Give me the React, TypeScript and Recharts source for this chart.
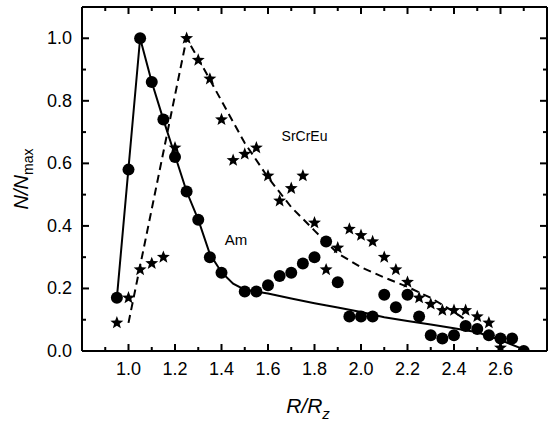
import React from "react";
import { ScatterChart, Scatter, XAxis, YAxis, ReferenceDot } from "recharts";

// Am (filled circles)
const AM_R = [0.95, 1.0, 1.05, 1.1, 1.15, 1.2, 1.25, 1.3, 1.35, 1.4, 1.5, 1.55, 1.6, 1.65, 1.7, 1.75, 1.8, 1.85, 1.9, 1.95, 2.0, 2.05, 2.1, 2.15, 2.2, 2.25, 2.3, 2.35, 2.4, 2.45, 2.5, 2.55, 2.6, 2.65, 2.7];
const AM_N = [0.17, 0.58, 1.0, 0.86, 0.74, 0.62, 0.51, 0.42, 0.3, 0.25, 0.19, 0.19, 0.21, 0.24, 0.25, 0.28, 0.3, 0.35, 0.22, 0.11, 0.11, 0.11, 0.18, 0.14, 0.18, 0.11, 0.05, 0.04, 0.05, 0.08, 0.07, 0.05, 0.04, 0.04, 0.0];

// SrCrEu (stars)
const SR_R = [0.95, 1.0, 1.05, 1.1, 1.15, 1.2, 1.25, 1.3, 1.35, 1.4, 1.45, 1.5, 1.55, 1.6, 1.65, 1.7, 1.75, 1.8, 1.85, 1.9, 1.95, 2.0, 2.05, 2.1, 2.15, 2.2, 2.25, 2.3, 2.35, 2.4, 2.45, 2.5, 2.55, 2.6];
const SR_N = [0.09, 0.17, 0.26, 0.28, 0.3, 0.65, 1.0, 0.93, 0.87, 0.74, 0.61, 0.63, 0.65, 0.56, 0.48, 0.52, 0.56, 0.41, 0.26, 0.33, 0.39, 0.37, 0.35, 0.3, 0.26, 0.22, 0.17, 0.15, 0.13, 0.13, 0.13, 0.11, 0.09, 0.01];

// fitted curves
const AM_FIT_R = [0.95, 1.05, 1.1, 1.15, 1.2, 1.25, 1.3, 1.35, 1.4, 1.45, 1.5, 1.6, 1.7, 1.8, 1.9, 2.0, 2.1, 2.2, 2.3, 2.4, 2.5, 2.6, 2.7];
const AM_FIT_N = [0.17, 1.0, 0.86, 0.74, 0.625, 0.51, 0.42, 0.31, 0.252, 0.215, 0.196, 0.184, 0.168, 0.153, 0.139, 0.125, 0.108, 0.096, 0.085, 0.073, 0.06, 0.035, 0.005];
const SR_FIT_R = [1.0, 1.25, 1.3, 1.4, 1.5, 1.6, 1.7, 1.8, 1.9, 2.0, 2.1, 2.2, 2.3, 2.4, 2.45];
const SR_FIT_N = [0.09, 1.0, 0.935, 0.8, 0.665, 0.555, 0.46, 0.385, 0.312, 0.268, 0.235, 0.205, 0.17, 0.125, 0.1];

const X_TICKS = [0.9, 1.0, 1.1, 1.2, 1.3, 1.4, 1.5, 1.6, 1.7, 1.8, 1.9, 2.0, 2.1, 2.2, 2.3, 2.4, 2.5, 2.6, 2.7];
const Y_TICKS = [0.0, 0.1, 0.2, 0.3, 0.4, 0.5, 0.6, 0.7, 0.8, 0.9, 1.0];

const FONT = "'Liberation Sans', Arial, sans-serif";

const zip = (xs: number[], ys: number[]) => xs.map((x, i) => ({ x, y: ys[i] }));
const am = zip(AM_R, AM_N);
const sr = zip(SR_R, SR_N);
const amFit = zip(AM_FIT_R, AM_FIT_N);
const srFit = zip(SR_FIT_R, SR_FIT_N);

const isMajor = (v: number) => Math.round(v * 10) % 2 === 0;

function BottomTick(props: any) {
  const { x, y, payload } = props;
  const v = payload.value;
  const len = isMajor(v) ? 7 : 4;
  return (
    <g>
      <path d={`M${x},${y}V${y - len}`} stroke="#000" strokeWidth={2} fill="none" />
      {isMajor(v) && (
        <text x={x} y={y + 24} textAnchor="middle" fontSize={18} fontFamily={FONT} fill="#000" stroke="none">
          {v.toFixed(1)}
        </text>
      )}
    </g>
  );
}

function TopTick(props: any) {
  const { x, y, payload } = props;
  const len = isMajor(payload.value) ? 7 : 4;
  return <path d={`M${x},${y}V${y + len}`} stroke="#000" strokeWidth={2} fill="none" />;
}

function LeftTick(props: any) {
  const { x, y, payload } = props;
  const v = payload.value;
  const len = isMajor(v) ? 7 : 4;
  return (
    <g>
      <path d={`M${x},${y}H${x + len}`} stroke="#000" strokeWidth={2} fill="none" />
      {isMajor(v) && (
        <text x={x - 10} y={y + 6} textAnchor="end" fontSize={18} fontFamily={FONT} fill="#000" stroke="none">
          {v.toFixed(1)}
        </text>
      )}
    </g>
  );
}

function RightTick(props: any) {
  const { x, y, payload } = props;
  const len = isMajor(payload.value) ? 7 : 4;
  return <path d={`M${x},${y}H${x - len}`} stroke="#000" strokeWidth={2} fill="none" />;
}

function Dot(props: any) {
  return <circle cx={props.cx} cy={props.cy} r={6} fill="#000" />;
}

function Star(props: any) {
  const { cx, cy } = props;
  const R = 6.8;
  const r = 2.9;
  let d = "";
  for (let i = 0; i < 10; i++) {
    const a = -Math.PI / 2 + (i * Math.PI) / 5;
    const rad = i % 2 === 0 ? R : r;
    d += (i ? "L" : "M") + (cx + rad * Math.cos(a)).toFixed(2) + "," + (cy + rad * Math.sin(a)).toFixed(2);
  }
  return <path d={d + "Z"} fill="#000" />;
}

const NoShape = () => <g />;

function XTitle() {
  return (
    <text x={308} y={413} textAnchor="middle" fontSize={21} fontFamily={FONT} fontStyle="italic" fill="#000">
      <tspan>R/R</tspan>
      <tspan fontSize={15} dy={6}>z</tspan>
    </text>
  );
}

function YTitle() {
  return (
    <text
      x={28}
      y={179}
      transform="rotate(-90, 28, 179)"
      textAnchor="middle"
      fontSize={20}
      fontFamily={FONT}
      fill="#000"
    >
      <tspan fontStyle="italic">N/N</tspan>
      <tspan fontSize={14} dy={5}>max</tspan>
    </text>
  );
}

const axisLine = { stroke: "#000", strokeWidth: 2 };

export default function App() {
  return (
    <div style={{ position: "absolute", left: 0, top: 0, width: 548, height: 422, background: "#fff" }}>
      <ScatterChart width={548} height={422} margin={{ top: 6, right: 0, bottom: 0, left: 0 }}>
        <XAxis
          type="number"
          dataKey="x"
          domain={[0.8, 2.8]}
          ticks={X_TICKS}
          interval={0}
          tick={<BottomTick />}
          tickLine={false}
          tickSize={0}
          tickMargin={0}
          axisLine={axisLine}
          height={71}
          allowDataOverflow
          label={<XTitle />}
        />
        <XAxis
          xAxisId="top"
          orientation="top"
          type="number"
          dataKey="x"
          domain={[0.8, 2.8]}
          ticks={X_TICKS}
          interval={0}
          tick={<TopTick />}
          tickLine={false}
          tickSize={0}
          tickMargin={0}
          axisLine={axisLine}
          height={1}
          allowDataOverflow
        />
        <YAxis
          type="number"
          dataKey="y"
          domain={[0, 1.1]}
          ticks={Y_TICKS}
          interval={0}
          tick={<LeftTick />}
          tickLine={false}
          tickSize={0}
          tickMargin={0}
          axisLine={axisLine}
          width={82}
          allowDataOverflow
          label={<YTitle />}
        />
        <YAxis
          yAxisId="right"
          orientation="right"
          type="number"
          dataKey="y"
          domain={[0, 1.1]}
          ticks={Y_TICKS}
          interval={0}
          tick={<RightTick />}
          tickLine={false}
          tickSize={0}
          tickMargin={0}
          axisLine={axisLine}
          width={1}
          allowDataOverflow
        />
        <Scatter data={amFit} line={{ stroke: "#000", strokeWidth: 2 }} shape={NoShape} isAnimationActive={false} />
        <Scatter
          data={srFit}
          xAxisId="top"
          yAxisId="right"
          line={{ stroke: "#000", strokeWidth: 2, strokeDasharray: "8 5" }}
          shape={NoShape}
          isAnimationActive={false}
        />
        <Scatter data={am} shape={Dot} isAnimationActive={false} />
        <Scatter data={sr} shape={Star} isAnimationActive={false} />
        <ReferenceDot
          x={1.757}
          y={0.688}
          r={0}
          ifOverflow="visible"
          shape={(p: any) => (
            <text x={p.cx} y={p.cy + 5} textAnchor="middle" fontSize={14} fontFamily={FONT} fill="#000">
              SrCrEu
            </text>
          )}
        />
        <ReferenceDot
          x={1.462}
          y={0.358}
          r={0}
          ifOverflow="visible"
          shape={(p: any) => (
            <text x={p.cx} y={p.cy + 6} textAnchor="middle" fontSize={15} fontFamily={FONT} fill="#000">
              Am
            </text>
          )}
        />
      </ScatterChart>
    </div>
  );
}
